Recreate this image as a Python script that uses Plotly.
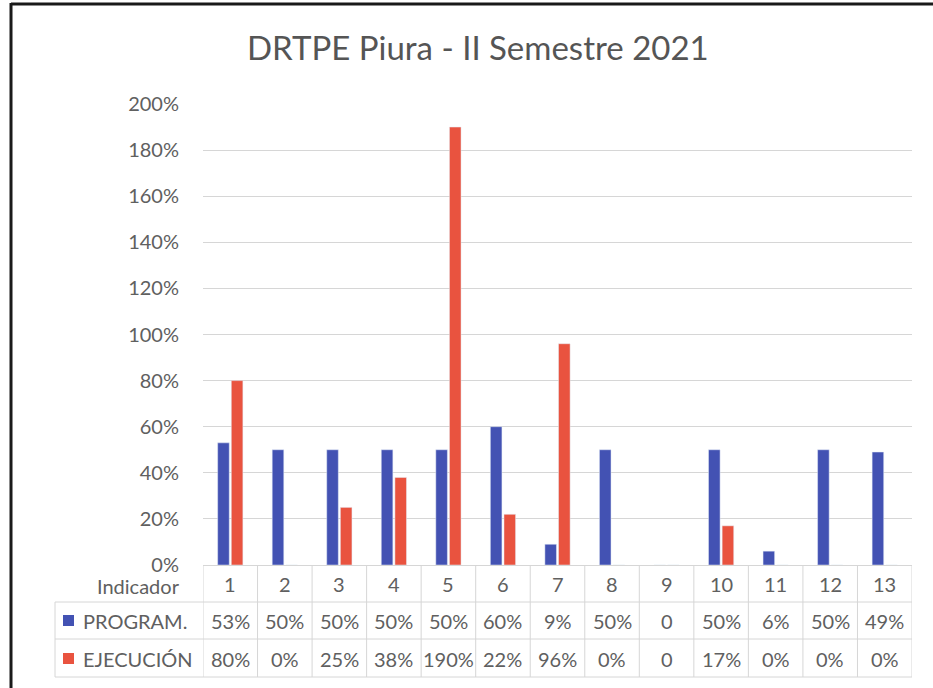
import plotly.graph_objects as go

categories = [1, 2, 3, 4, 5, 6, 7, 8, 9, 10, 11, 12, 13]
program = [53, 50, 50, 50, 50, 60, 9, 50, 0, 50, 6, 50, 49]
ejecucion = [80, 0, 25, 38, 190, 22, 96, 0, 0, 17, 0, 0, 0]
program_labels = ["53%", "50%", "50%", "50%", "50%", "60%", "9%", "50%", "0", "50%", "6%", "50%", "49%"]
ejecucion_labels = ["80%", "0%", "25%", "38%", "190%", "22%", "96%", "0%", "0", "17%", "0%", "0%", "0%"]
series_names = ["PROGRAM.", "EJECUCIÓN"]
y_ticks = [0, 20, 40, 60, 80, 100, 120, 140, 160, 180, 200]

BLUE = "#4352b3"
RED = "#e9533f"
TXT = "#606060"
FONT = "Lato"
FS = 20

W, H = 933, 688
TOP, BOT = 104, 565
L, R = 203, 912

def yp(py):
    return (BOT - py) / (BOT - TOP)

def xp(px):
    return (px - L) / (R - L)

fig = go.Figure()
fig.add_trace(go.Bar(x=categories, y=program, name=series_names[0], marker_color=BLUE))
fig.add_trace(go.Bar(x=categories, y=ejecucion, name=series_names[1], marker_color=RED))

ann = []
shapes = []
def txt(x, py, text, xref="x", xanchor="center", size=FS, color=TXT):
    ann.append(dict(x=x, y=yp(py), xref=xref, yref="paper", text=text, showarrow=False,
                    xanchor=xanchor, yanchor="middle",
                    font=dict(size=size, color=color, family=FONT)))

for c in categories:
    txt(c, 584, str(c))
for c, t in zip(categories, program_labels):
    txt(c, 621, t)
for c, t in zip(categories, ejecucion_labels):
    txt(c, 659, t)
txt(xp(182), 586, "Indicador", xref="paper", xanchor="right")
for name, py, col in [(series_names[0], 621, BLUE), (series_names[1], 659, RED)]:
    txt(xp(81), py, name, xref="paper", xanchor="left")
    shapes.append(dict(type="rect", xref="paper", yref="paper", x0=xp(63), x1=xp(74),
                       y0=yp(py + 5), y1=yp(py - 6), fillcolor=col, line=dict(width=0)))
txt(xp(478), 47, "DRTPE Piura - II Semestre 2021", xref="paper", size=33, color="#555555")

GRID = "#d6d6d6"
for py in [602, 639, 677]:
    shapes.append(dict(type="line", xref="paper", yref="paper", x0=xp(55), x1=1, y0=yp(py), y1=yp(py),
                       line=dict(color=GRID, width=1)))
shapes.append(dict(type="line", xref="paper", yref="paper", x0=xp(55), x1=xp(55), y0=yp(602), y1=yp(677),
                   line=dict(color=GRID, width=1)))
for k in range(len(categories) + 1):
    x = 0.5 + k
    shapes.append(dict(type="line", xref="x", yref="paper", x0=x, x1=x, y0=0, y1=yp(677),
                       line=dict(color=GRID, width=1)))
# outer frame (left and top edges)
shapes.append(dict(type="line", xref="paper", yref="paper", x0=xp(11), x1=xp(11), y0=yp(3), y1=yp(700),
                   line=dict(color="#1a1a1a", width=3)))
shapes.append(dict(type="line", xref="paper", yref="paper", x0=xp(11), x1=xp(933), y0=yp(4), y1=yp(4),
                   line=dict(color="#1a1a1a", width=3)))

fig.update_layout(
    width=W, height=H,
    margin=dict(l=L, r=W - R, t=TOP, b=H - BOT, pad=0),
    paper_bgcolor="white", plot_bgcolor="white",
    barmode="group", bargap=0.5, bargroupgap=0.15,
    showlegend=False,
    annotations=ann, shapes=shapes,
    font=dict(family=FONT, color=TXT),
)
fig.update_xaxes(range=[0.5, 13.5], showticklabels=False, showgrid=False, zeroline=False,
                 showline=False, ticks="")
fig.update_yaxes(range=[0, 200], tickvals=y_ticks, ticktext=[f"{v}%" for v in y_ticks],
                 tickfont=dict(size=FS, color=TXT, family=FONT), gridcolor=GRID, gridwidth=1,
                 zeroline=True, zerolinecolor=GRID, zerolinewidth=1, showline=False,
                 ticks="", ticklabelstandoff=23)

fig.write_html("out.html", config={"displayModeBar": False},
               post_script="document.body.style.margin='0';")
